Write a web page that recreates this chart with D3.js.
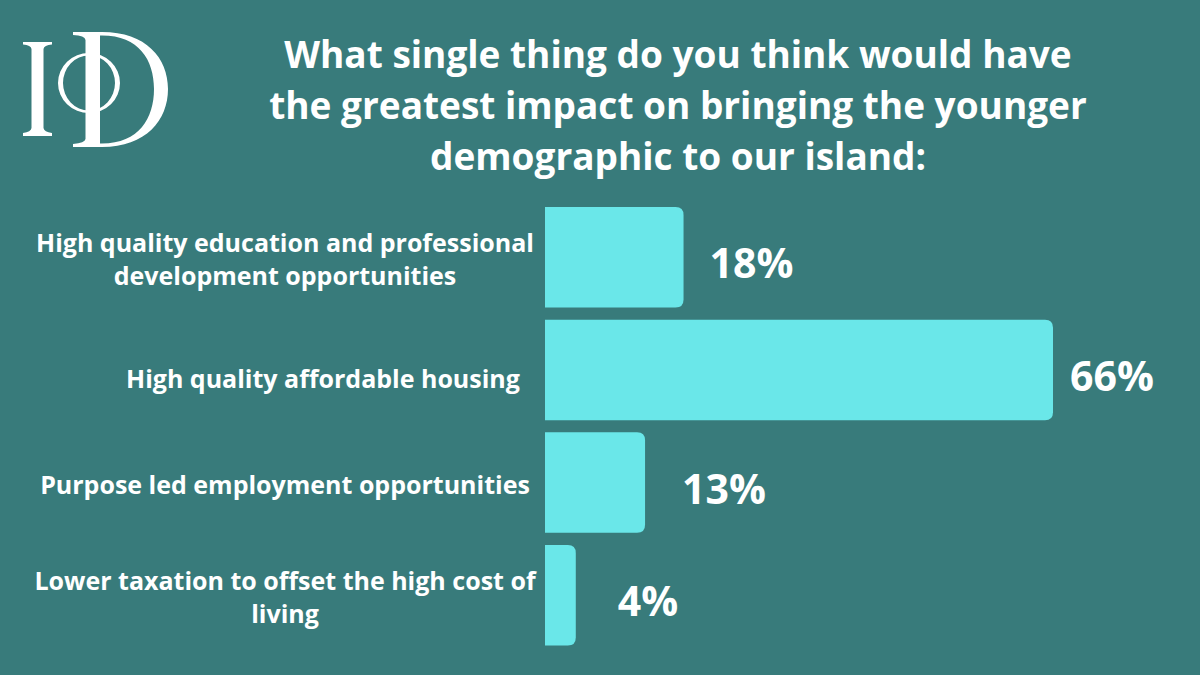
<!DOCTYPE html>
<html>
<head>
<meta charset="utf-8">
<script src="https://cdn.jsdelivr.net/npm/d3@7"></script>
<style>
  html, body { margin: 0; padding: 0; background: #387b7b; }
  svg { display: block; }
  text { font-family: "Open Sans", "Noto Sans", sans-serif; font-weight: 700; fill: #ffffff; }
</style>
</head>
<body>
<svg id="chart" width="1200" height="675"></svg>
<script>
// ---- Data ----
const titleLines = [
  "What single thing do you think would have",
  "the greatest impact on bringing the younger",
  "demographic to our island:"
];
const categories = [
  "High quality education and professional development opportunities",
  "High quality affordable housing",
  "Purpose led employment opportunities",
  "Lower taxation to offset the high cost of living"
];
const categoryLabelLines = [
  ["High quality education and professional", "development opportunities"],
  ["High quality affordable housing"],
  ["Purpose led employment opportunities"],
  ["Lower taxation to offset the high cost of", "living"]
];
const values = [18, 66, 13, 4];
const valueLabels = ["18%", "66%", "13%", "4%"];

// ---- Setup ----
const W = 1200, H = 675;
const svg = d3.select("#chart");
const BG = "#387b7b", BAR = "#6ae7e9";
svg.append("rect").attr("width", W).attr("height", H).attr("fill", BG);

// ---- Logo (IoD) ----
const logo = svg.append("g").attr("fill", "#ffffff");
logo.append("path")
  .attr("d", "M23,42 H52 V44.5 Q44,45 43.5,49 V128 Q44,132 52,133 V136 H23 V133 Q31,132 31.5,128 V49 Q31,45 23,44.5 Z");
logo.append("path")
  .attr("fill-rule", "evenodd")
  .attr("d", "M58,83 A31,30 0 1,0 120,83 A31,30 0 1,0 58,83 Z M63,83 A26,27.5 0 1,0 115,83 A26,27.5 0 1,0 63,83 Z");
logo.append("path")
  .attr("fill-rule", "evenodd")
  .attr("d", "M73,32 H102 C146,32 168,58 168,89 C168,120 146,147 102,147 H73 V144 Q85,143 85.5,139 V40 Q85,35.5 73,35 Z M100,35.5 H102 C139,35.5 154,60 154,89 C154,118 139,143.5 102,143.5 H100 Z");

// ---- Title ----
const title = svg.append("text")
  .attr("text-anchor", "middle")
  .style("font-size", "37px");
titleLines.forEach((t, i) => {
  title.append("tspan").attr("x", 678).attr("y", 68 + i * 51).text(t);
});

// ---- Scales ----
const y = d3.scaleBand()
  .domain(categories)
  .range([207, 645.5])
  .paddingInner(0.108)
  .paddingOuter(0);

const x = d3.scaleLinear()
  .domain([0, 66])
  .range([545, 1053]);

// rounded-right bar path
function barPath(x0, x1, y0, h, r) {
  r = Math.min(r, (x1 - x0) / 2, h / 2);
  return `M${x0},${y0} H${x1 - r} Q${x1},${y0} ${x1},${y0 + r} V${y0 + h - r} Q${x1},${y0 + h} ${x1 - r},${y0 + h} H${x0} Z`;
}

const rows = categories.map((c, i) => ({ c, v: values[i], lab: valueLabels[i], lines: categoryLabelLines[i] }));

svg.append("g").selectAll("path")
  .data(rows)
  .join("path")
  .attr("d", d => barPath(x(0), x(d.v), y(d.c), y.bandwidth(), 8))
  .attr("fill", BAR);

// value labels (hand-nudged horizontally like the original layout)
const valueNudge = { "18%": -4, "66%": -13, "13%": 7, "4%": 12 };
svg.append("g").selectAll("text")
  .data(rows)
  .join("text")
  .attr("x", d => x(d.v) + 30 + (valueNudge[d.lab] || 0))
  .attr("y", d => y(d.c) + y.bandwidth() / 2 + 21)
  .style("font-size", "41px")
  .text(d => d.lab);

// category labels (centred block to the left of the bars)
const labelCenterX = 285;
const labelShift = { "High quality affordable housing": [38, 7] };
const lg = svg.append("g");
rows.forEach(d => {
  const cy = y(d.c) + y.bandwidth() / 2;
  const n = d.lines.length;
  const sh = labelShift[d.c] || [0, 0];
  const t = lg.append("text")
    .attr("text-anchor", "middle")
    .style("font-size", "25px");
  d.lines.forEach((ln, i) => {
    t.append("tspan")
      .attr("x", labelCenterX + sh[0])
      .attr("y", cy - (n - 1) * 16.5 + 11 + sh[1] + i * 33.5)
      .text(ln);
  });
});
</script>
</body>
</html>
